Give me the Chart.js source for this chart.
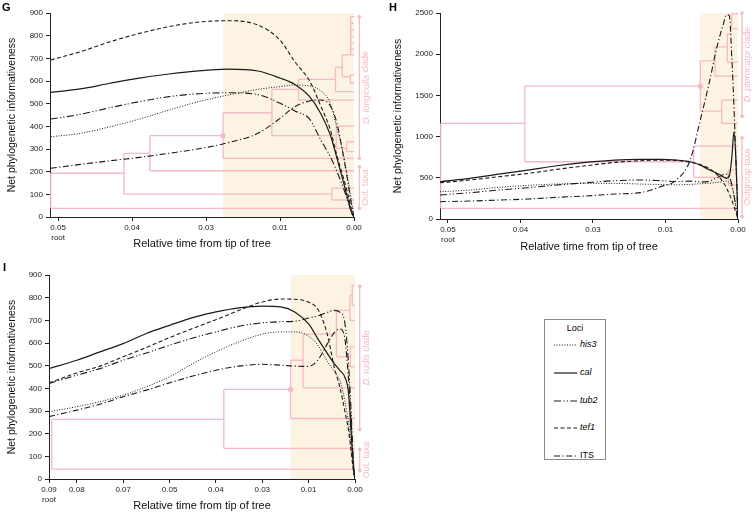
<!DOCTYPE html>
<html>
<head>
<meta charset="utf-8">
<script src="https://cdn.jsdelivr.net/npm/chart.js@4.4.1/dist/chart.umd.min.js"></script>
<style>
  body { margin: 0; background: #fff; width: 754px; height: 513px; overflow: hidden; position: relative;
         font-family: 'Liberation Sans', Arial, sans-serif; }
  canvas { position: absolute; }
  .letter { position: absolute; font-weight: bold; font-size: 11px; line-height: 1; }
  #legend { position: absolute; left: 544px; top: 319px; width: 60px; height: 139px; border: 1px solid #8a8a8a; font-size: 9px; }
  #legend .title { position: absolute; left: 0; width: 100%; top: 3px; text-align: center; }
  #legend .row { position: absolute; left: 9px; height: 10px; }
  #legend svg { position: absolute; left: 0; top: 3px; }
  #legend span { position: absolute; left: 26px; top: -1px; white-space: nowrap; }
</style>
</head>
<body>
<canvas id="chartG" width="377" height="255" style="left:0;top:0"></canvas>
<canvas id="chartH" width="377" height="255" style="left:377px;top:0"></canvas>
<canvas id="chartI" width="377" height="255" style="left:0;top:258px"></canvas>
<div class="letter" style="left:2px;top:2px">G</div>
<div class="letter" style="left:389px;top:2px">H</div>
<div class="letter" style="left:3px;top:262px">I</div>
<div id="legend"><div class="title">Loci</div></div>

<script>
// Time is measured in tick steps back from the tips (0.00 = 0); the printed
// labels are not evenly spaced in value, so ticks carry their own labels.

// ---- panel G ----
const gTickPos = [0, 1, 2, 3, 4];
const gTickLabels = ['0.00', '0.01', '0.03', '0.04', ['0.05', 'root']];
const gTime = [4.1, 3.7, 3.3, 2.9, 2.5, 2.1, 1.7, 1.3, 1.0, 0.8, 0.6, 0.45, 0.32, 0.23, 0.15, 0.08, 0.03, 0];
const gHis3 = [354, 369, 398, 432, 472, 509, 538, 563, 575, 582, 578, 556, 502, 391, 288, 163, 60, 0];
const gCal  = [550, 565, 590, 613, 631, 645, 652, 644, 613, 585, 531, 457, 362, 259, 163, 75, 18, 0];
const gTub2 = [432, 453, 482, 509, 531, 544, 548, 540, 502, 468, 432, 340, 266, 200, 134, 68, 18, 0];
const gTef1 = [693, 729, 773, 810, 840, 860, 866, 847, 780, 685, 600, 490, 385, 270, 180, 97, 23, 0];
const gIts  = [215, 232, 248, 263, 281, 301, 328, 369, 435, 487, 512, 516, 490, 413, 281, 149, 46, 0];
// tree: horizontal branches [y, xFrom, xTo], vertical branches [x, yFrom, yTo]
const gBranchH = [[38, 4.1, 0], [193, 4.1, 3.11], [101, 3.11, 0.30], [127, 0.30, 0], [75, 0.30, 0],
  [281, 3.11, 2.76], [204, 2.76, 0], [359, 2.76, 1.77], [259, 1.77, 0], [460, 1.77, 1.11],
  [359, 1.11, 0.24], [401, 0.24, 0], [303, 0.24, 0.10], [332, 0.10, 0], [288, 0.10, 0],
  [563, 1.11, 0.75], [516, 0.75, 0], [607, 0.75, 0.25], [553, 0.25, 0], [660, 0.25, 0.16],
  [619, 0.16, 0.05], [627, 0.05, 0], [590, 0.05, 0], [715, 0.16, 0],
  [884, 0.045, 0], [855, 0.045, 0], [825, 0.045, 0], [796, 0.045, 0], [767, 0.045, 0], [740, 0.045, 0]];
const gBranchV = [[4.1, 38, 193], [3.11, 101, 281], [0.30, 75, 127], [2.76, 204, 359], [1.77, 259, 460],
  [1.11, 359, 563], [0.24, 303, 401], [0.10, 288, 332], [0.75, 516, 607], [0.25, 553, 660],
  [0.16, 619, 715], [0.05, 590, 627], [0.045, 715, 884]];
const gCrown = [1.77, 359];
const gClades = [[884, 259, 'D. longicolla', ' clade'], [222, 38, '', 'Out. taxa']];

// ---- panel H ----
const hTickPos = [0, 1, 2, 3, 4];
const hTickLabels = ['0.00', '0.01', '0.03', '0.04', ['0.05', 'root']];
const hTime = [4.11, 3.7, 3.3, 2.9, 2.5, 2.1, 1.7, 1.35, 1.07, 0.85, 0.66, 0.52, 0.39, 0.29, 0.2, 0.16, 0.12, 0.085, 0.055, 0.028, 0];
const hHis3 = [331, 351, 384, 408, 424, 432, 432, 424, 418, 415, 420, 428, 435, 445, 455, 460, 445, 390, 300, 160, 0];
const hCal  = [452, 493, 545, 594, 646, 687, 715, 723, 723, 715, 695, 654, 594, 555, 510, 495, 520, 750, 1060, 700, 0];
const hTub2 = [291, 319, 351, 380, 412, 440, 465, 473, 465, 455, 460, 450, 460, 500, 540, 545, 510, 420, 280, 130, 0];
const hTef1 = [440, 473, 513, 553, 602, 646, 687, 707, 715, 711, 690, 660, 610, 540, 440, 380, 300, 230, 150, 80, 0];
const hIts  = [210, 218, 230, 242, 263, 279, 303, 320, 391, 473, 715, 1200, 1680, 2090, 2372, 2480, 2470, 1950, 1350, 700, 0];
const hBranchH = [[129, 4.1, 0], [1160, 4.1, 2.94], [695, 2.94, 0.61], [885, 0.61, 0], [505, 0.61, 0.134],
  [594, 0.134, 0], [412, 0.134, 0], [1612, 2.94, 0.52], [1309, 0.52, 0.225], [1442, 0.225, 0], [1160, 0.225, 0],
  [1919, 0.52, 0.317], [1733, 0.317, 0], [2088, 0.317, 0.147], [1903, 0.147, 0], [2250, 0.147, 0.087],
  [2493, 0.087, 0], [2311, 0.087, 0]];
const hBranchV = [[4.1, 129, 1160], [2.94, 695, 1612], [0.61, 505, 885], [0.134, 412, 594], [0.52, 1309, 1919],
  [0.225, 1160, 1442], [0.317, 1733, 2088], [0.147, 1903, 2250], [0.087, 2311, 2493]];
const hCrown = [0.52, 1612];
const hClades = [[2500, 1248, 'D. pterocarpi', ' clade'], [985, 28, '', 'Outgroup taxa']];

// ---- panel I ----
const iTickPos = [0, 1, 2, 3, 4, 5, 6, 6.6];
const iTickLabels = ['0.00', '0.01', '0.03', '0.04', '0.05', '0.07', '0.08', ['0.09', 'root']];
const iTime = [6.6, 6.0, 5.5, 5.0, 4.5, 4.0, 3.5, 3.0, 2.5, 2.0, 1.6, 1.3, 1.0, 0.8, 0.6, 0.45, 0.32, 0.22, 0.14, 0.08, 0.03, 0];
const iHis3 = [297, 319, 341, 370, 407, 451, 509, 561, 605, 639, 649, 649, 630, 590, 520, 475, 432, 345, 250, 140, 45, 0];
const iCal  = [487, 524, 561, 597, 642, 678, 712, 737, 755, 763, 759, 737, 684, 618, 555, 510, 478, 450, 380, 190, 50, 0];
const iTub2 = [421, 458, 487, 524, 556, 590, 622, 649, 674, 689, 694, 696, 710, 720, 735, 744, 735, 690, 510, 280, 50, 0];
const iTef1 = [424, 468, 498, 539, 580, 624, 664, 703, 744, 781, 794, 793, 780, 748, 640, 495, 400, 300, 215, 115, 30, 0];
const iIts  = [275, 304, 330, 363, 392, 424, 454, 480, 498, 506, 502, 498, 497, 525, 595, 645, 662, 620, 440, 240, 60, 0];
const iBranchH = [[44, 6.54, 0], [263, 6.54, 2.83], [135, 2.83, 0], [395, 2.83, 1.39], [267, 1.39, 0],
  [524, 1.39, 1.12], [402, 1.12, 0], [639, 1.12, 0.40], [539, 0.40, 0.10], [583, 0.10, 0], [495, 0.10, 0],
  [744, 0.40, 0.11], [700, 0.11, 0], [811, 0.11, 0.06], [855, 0.06, 0], [766, 0.06, 0]];
const iBranchV = [[6.54, 44, 263], [2.83, 135, 395], [1.39, 267, 524], [1.12, 402, 639], [0.40, 539, 744],
  [0.10, 495, 583], [0.11, 700, 811], [0.06, 766, 855]];
const iCrown = [1.39, 395];
const iClades = [[850, 219, 'D. rudis', ' clade'], [131, 37, '', 'Out. taxa']];

// loci styles (shared by all panels and the legend)
const loci = ['his3', 'cal', 'tub2', 'tef1', 'ITS'];
const lociDash = [[1, 1.6], [], [7, 2.5, 1.2, 2, 1.2, 2.5], [4, 2.5], [6, 2.5, 1.2, 2.5]];
const lociWidth = [1, 1.2, 1.1, 1.1, 1.1];

const PINK = '#f6b9c5';
const SHADE = '#fdf3e3';
const FONT = "'Liberation Sans', Arial, sans-serif";

Chart.defaults.font.family = FONT;
Chart.defaults.color = '#222';

function curve(xs, ys, i) {
  return {
    label: loci[i],
    data: xs.map((x, k) => ({ x: x, y: ys[k] })),
    borderColor: '#1a1a1a',
    borderWidth: lociWidth[i],
    borderDash: lociDash[i],
    pointRadius: 0,
    cubicInterpolationMode: 'monotone',
    fill: false,
    order: 1
  };
}

function treeData(hs, vs) {
  const pts = [];
  hs.forEach(([y, x1, x2]) => pts.push({ x: x1, y: y }, { x: x2, y: y }, { x: x2, y: null }));
  vs.forEach(([x, y1, y2]) => pts.push({ x: x, y: y1 }, { x: x, y: y2 }, { x: x, y: null }));
  return pts;
}

const treeDecor = {
  id: 'treeDecor',
  beforeDraw(chart, args, opts) {
    const { ctx, chartArea: a, scales: { x } } = chart;
    const left = x.getPixelForValue(opts.shadeFrom);
    ctx.save();
    ctx.fillStyle = SHADE;
    ctx.fillRect(left, a.top, a.right - left, a.bottom - a.top);
    ctx.restore();
  },
  afterDraw(chart, args, opts) {
    const { ctx, chartArea: a, scales: { y } } = chart;
    const bx = a.right + opts.barGap, lx = a.right + opts.labelGap;
    ctx.save();
    ctx.strokeStyle = PINK;
    ctx.fillStyle = PINK;
    ctx.lineWidth = 1.3;
    opts.clades.forEach(([top, bottom, ital, rest]) => {
      const y1 = y.getPixelForValue(top), y2 = y.getPixelForValue(bottom);
      ctx.beginPath(); ctx.moveTo(bx, y1); ctx.lineTo(bx, y2); ctx.stroke();
      [y1, y2].forEach(py => { ctx.beginPath(); ctx.arc(bx, py, 1.8, 0, Math.PI * 2); ctx.fill(); });
      // rotated label: italic genus part, then plain text
      ctx.save();
      ctx.translate(lx, (y1 + y2) / 2);
      ctx.rotate(-Math.PI / 2);
      ctx.textBaseline = 'middle';
      ctx.textAlign = 'left';
      const fi = 'italic 9px ' + FONT, fn = '9px ' + FONT;
      ctx.font = fi; const w1 = ctx.measureText(ital).width;
      ctx.font = fn; const w2 = ctx.measureText(rest).width;
      const sx = -(w1 + w2) / 2;
      ctx.font = fi; ctx.fillText(ital, sx, 0);
      ctx.font = fn; ctx.fillText(rest, sx + w1, 0);
      ctx.restore();
    });
    ctx.restore();
  }
};

function makePanel(id, p) {
  const datasets = [
    { label: 'tree', data: treeData(p.branchH, p.branchV), borderColor: PINK, borderWidth: 1.3,
      pointRadius: 0, spanGaps: false, tension: 0, order: 10 },
    { label: 'crown', data: [{ x: p.crown[0], y: p.crown[1] }], showLine: false, pointRadius: 2.6,
      pointBackgroundColor: PINK, pointBorderWidth: 0, order: 9 }
  ];
  p.series.forEach((ys, i) => datasets.push(curve(p.time, ys, i)));

  new Chart(document.getElementById(id), {
    type: 'line',
    data: { datasets: datasets },
    plugins: [treeDecor],
    options: {
      responsive: false,
      animation: false,
      layout: { padding: { left: 0, right: p.padRight, top: p.padTop, bottom: 0 } },
      plugins: {
        legend: { display: false },
        tooltip: { enabled: false },
        treeDecor: { shadeFrom: p.crown[0], clades: p.clades, barGap: p.barGap, labelGap: p.labelGap }
      },
      scales: {
        x: {
          type: 'linear',
          reverse: true,
          min: 0,
          max: p.xMax,
          afterFit: s => { s.height = p.xHeight; },
          afterBuildTicks: s => { s.ticks = p.tickPos.map(v => ({ value: v })); },
          ticks: {
            autoSkip: false, maxRotation: 0, padding: 2,
            font: { size: 8 }, color: '#222',
            callback: v => p.tickLabels[p.tickPos.indexOf(v)]
          },
          grid: { drawOnChartArea: false, drawTicks: true, tickLength: 4, color: '#222' },
          border: { color: '#222', width: 1 },
          title: { display: true, text: 'Relative time from tip of tree', font: { size: 11 },
                   color: '#111', padding: { top: 0, bottom: p.xTitlePad } }
        },
        y: {
          min: 0,
          max: p.yMax,
          afterFit: s => { s.width = p.yWidth; },
          ticks: { stepSize: p.yStep, padding: 3, font: { size: 8 }, color: '#222',
                   callback: v => String(v) },
          grid: { drawOnChartArea: false, drawTicks: true, tickLength: 4, color: '#222' },
          border: { color: '#222', width: 1 },
          title: { display: true, text: 'Net phylogenetic informativeness', font: { size: 10.5 },
                   color: '#111', padding: { top: p.yTitlePad, bottom: 0 } }
        }
      }
    }
  });
}

makePanel('chartG', {
  time: gTime, series: [gHis3, gCal, gTub2, gTef1, gIts],
  branchH: gBranchH, branchV: gBranchV, crown: gCrown, clades: gClades,
  tickPos: gTickPos, tickLabels: gTickLabels, xMax: 4.11, yMax: 900, yStep: 100,
  padRight: 23, padTop: 13, yWidth: 50, xHeight: 38, xTitlePad: 4.4, yTitlePad: 5.5,
  barGap: 5.3, labelGap: 12
});
makePanel('chartH', {
  time: hTime, series: [hHis3, hCal, hTub2, hTef1, hIts],
  branchH: hBranchH, branchV: hBranchV, crown: hCrown, clades: hClades,
  tickPos: hTickPos, tickLabels: hTickLabels, xMax: 4.11, yMax: 2500, yStep: 500,
  padRight: 16, padTop: 13, yWidth: 63, xHeight: 36, xTitlePad: 1.1, yTitlePad: 14.4,
  barGap: 4, labelGap: 9.5
});
makePanel('chartI', {
  time: iTime, series: [iHis3, iCal, iTub2, iTef1, iIts],
  branchH: iBranchH, branchV: iBranchV, crown: iCrown, clades: iClades,
  tickPos: iTickPos, tickLabels: iTickLabels, xMax: 6.6, yMax: 900, yStep: 100,
  padRight: 22, padTop: 17, yWidth: 49, xHeight: 34, xTitlePad: 0.4, yTitlePad: 5.4,
  barGap: 4.7, labelGap: 11.4
});

// legend box
const legendEl = document.getElementById('legend');
const rowTops = [20, 48, 76, 103, 131];
loci.forEach((name, i) => {
  const row = document.createElement('div');
  row.className = 'row';
  row.style.top = rowTops[i] + 'px';
  const dash = lociDash[i].length ? lociDash[i].join(' ') : 'none';
  row.innerHTML = '<svg width="23" height="4"><line x1="0" y1="2" x2="23" y2="2" stroke="#1a1a1a" stroke-width="' +
    lociWidth[i] + '" stroke-dasharray="' + dash + '"/></svg>' +
    '<span' + (name === 'ITS' ? '' : ' style="font-style:italic"') + '>' + name + '</span>';
  legendEl.appendChild(row);
});
</script>
</body>
</html>
